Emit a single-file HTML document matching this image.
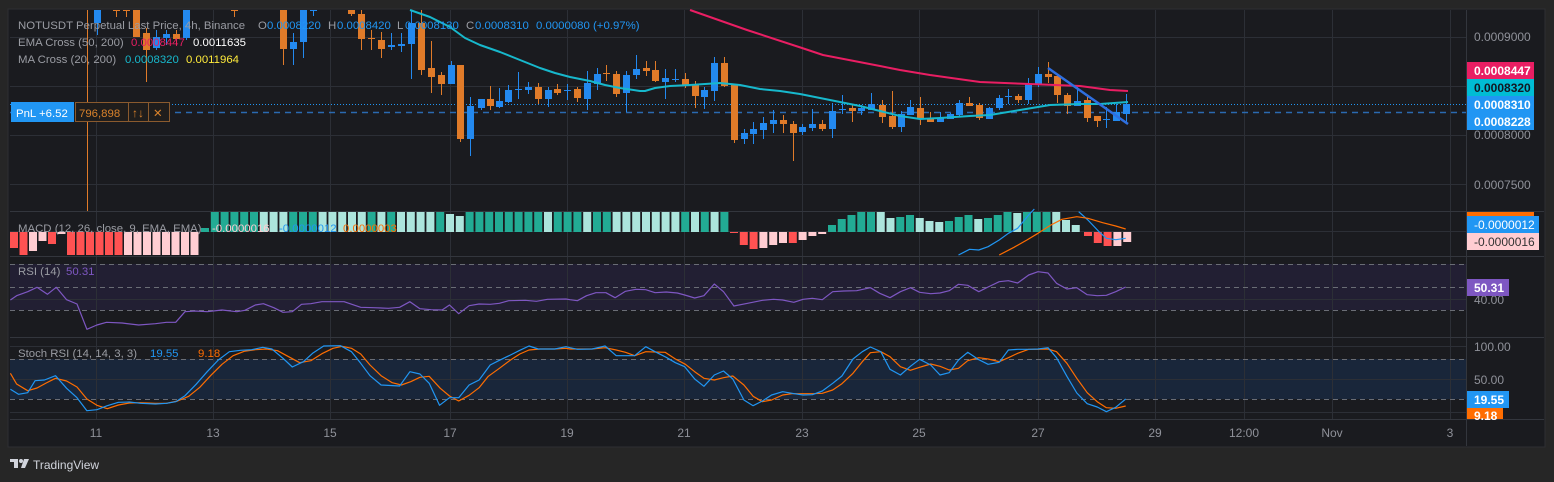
<!DOCTYPE html>
<html><head><meta charset="utf-8"><style>
html,body{margin:0;padding:0;background:#262626;width:1554px;height:482px;overflow:hidden}
svg{display:block}
text{font-family:"Liberation Sans",sans-serif;font-size:12px}
text.lg{font-size:11.4px}
</style></head><body>
<svg id="s" width="1554" height="482" xmlns="http://www.w3.org/2000/svg">
<rect x="8" y="9" width="1537" height="438" fill="#1a1b1f" stroke="#2e2f33"/>
<g id="g"></g>
</svg>
<script>
const NS="http://www.w3.org/2000/svg";const g=document.getElementById('g');
function el(t,a,txt){const e=document.createElementNS(NS,t);for(const k in a)e.setAttribute(k,a[k]);if(txt!==undefined)e.textContent=txt;g.appendChild(e);return e;}
function line(x1,y1,x2,y2,c,w,d){const a={x1,y1,x2,y2,stroke:c,'stroke-width':w||1};if(d)a['stroke-dasharray']=d;el('line',a);}
function rect(x,y,w,h,c){el('rect',{x,y,width:w,height:h,fill:c});}
function poly(pts,c,w){el('polyline',{points:pts.map(p=>p[0].toFixed(1)+','+p[1].toFixed(1)).join(' '),fill:'none',stroke:c,'stroke-width':w||1.2,'stroke-linejoin':'round'});}
function txt(x,y,s,c,extra){const a={x,y,fill:c};Object.assign(a,extra||{});el('text',a,s);}
function lt(x,y,s,c){txt(x,y,s,c,{'class':'lg'});}
const GR='#2c2f36';
rect(10,264,1456,46,'#221f33');
rect(10,359,1456,40,'#19263a');
[96,213,330,450,567,684,802,919,1038,1155,1244,1332,1450].forEach(x=>line(x+.5,10,x+.5,419,GR,1));
[37,86,135,184].forEach(y=>line(10,y+.5,1466,y+.5,GR,1));
[211,256,337,419].forEach(y=>line(10,y+.5,1544,y+.5,'#33363d',1));
line(1466.5,10,1466.5,446,'#33363d',1);
line(10,231.5,1466,231.5,GR,1);
line(10,299.5,1466,299.5,GR,1);
[346,379,412].forEach(y=>line(10,y+.5,1466,y+.5,GR,1));
[264,287,310].forEach(y=>line(10,y+.5,1466,y+.5,'#6a6d75',1,'5,4'));
[359,399].forEach(y=>line(10,y+.5,1466,y+.5,'#6a6d75',1,'5,4'));
line(10,104.5,1466,104.5,'#2196f3',1,'1,2');
line(10,112.5,1466,112.5,'#2a6ab0',1.5,'6,5');
const B='#2389ef',O='#e07b29';
const C=[
[97,'b',10,23,10,35],[116,'o',10,10,10,17],[126,'o',10,10,10,17],[136,'o',10,37,10,37],[146,'o',33,50,28,82],[156,'b',37,48,30,50],[166,'b',34,38,30,45],[176,'o',34,39,30,45],[186,'b',10,38,10,40],[234,'o',10,10,10,17],
[283,'o',10,49,10,65],[293,'b',42,49,33,65],[303,'b',10,42,10,58],[313,'b',10,10,10,16],[351,'o',10,14,10,16],[361,'o',14,39,10,50],[371,'o',38,39,30,50],[381,'o',40,49,32,58],[391,'b',45,47,33,50],[401,'b',44,46,33,52],
[411,'b',23,44,10,79],[421,'o',23,70,10,75],[431,'o',68,77,41,93],[441,'o',75,84,72,95],[451,'b',65,84,61,84],[460,'o',65,139,65,142],[470,'b',106,139,97,156],
[481,'b',99,108,99,110],[490,'o',99,106,86,110],[499,'b',101,107,88,108],[508,'b',90,102,85,103],[518,'b',89,89,72,99],[528,'b',87,90,82,94],[538,'o',87,99,83,104],[548,'b',90,99,87,107],[557,'o',89,93,84,95],[567,'b',90,90,84,100],[577,'o',89,98,87,102],[587,'b',83,99,71,110],[597,'b',74,84,68,90],[606,'o',73,73,65,81],[616,'o',74,94,71,97],[626,'b',75,93,71,112],[636,'b',69,75,55,79],[646,'o',68,71,61,76],[655,'o',70,81,61,82],[665,'b',78,82,69,99],[675,'b',79,79,69,82],[685,'o',79,86,73,88],[695,'o',84,96,81,108],[704,'b',90,97,87,109],[714,'b',63,91,57,101],[724,'o',63,86,57,87],[734,'o',85,140,85,143],[744,'b',133,139,129,144],[753,'b',129,134,122,144],[763,'b',123,130,117,139],[773,'b',120,124,110,133],[783,'o',120,124,115,133],[793,'o',124,133,121,161],[802,'b',127,132,124,135],[812,'b',124,128,109,131],[822,'o',124,129,120,131],[832,'b',111,129,103,138],[842,'b',109,109,95,114],[852,'o',108,111,105,122],[861,'b',108,111,105,115],[871,'b',104,110,93,110],
[882,'o',105,117,100,123],[892,'o',116,127,91,129],[901,'b',114,127,111,132],[910,'b',107,115,100,115],[920,'o',108,119,97,125],[930,'o',118,122,112,122],[940,'b',118,122,112,122],[950,'b',114,119,113,119],[959,'b',103,115,100,117],[969,'o',103,106,97,106],[979,'o',105,118,103,120],[989,'b',108,119,107,119],[999,'b',98,108,95,110],[1008,'b',96,96,89,104],[1018,'o',96,100,94,103],[1028,'b',84,100,78,104],[1038,'b',74,85,67,87],[1048,'o',74,77,62,83],[1057,'o',76,95,74,103],[1067,'o',95,106,93,114],[1077,'b',101,106,87,106],[1087,'o',100,118,95,122],[1097,'o',116,121,116,127],[1106,'b',119,119,107,128],[1116,'b',112,121,104,121],[1126,'b',104,114,94,122]];
line(87.5,10,87.5,211,O,1);
C.forEach(c=>{const col=c[1]=='b'?B:O;line(c[0]+.5,c[4],c[0]+.5,c[5],col,1);rect(c[0]-3,c[2],7,Math.max(1,c[3]-c[2]),col);});
poly([[690,10],[747,30],[802,48],[823,55],[880,66],[900,70],[930,75],[980,82],[1030,84],[1080,86],[1110,90],[1128,91]],'#e91e63',2);
poly([[410,10],[430,17],[450,27],[465,38],[480,45],[500,52],[520,60],[540,68],[555,73],[570,77],[590,81],[605,85],[620,88],[640,91],[645,91],[655,88],[670,86],[690,85],[720,83],[740,85],[760,89],[780,91],[800,94],[820,98],[840,102],[860,106],[880,111],[900,116],[920,119],[940,118],[970,116],[990,115],[1020,110],[1050,105],[1080,104],[1100,104],[1128,102]],'#17b8cc',2);
poly([[1048,68],[1128,124]],'#2f6fe0',2.5);
const DG='#22ab94',LG='#ace5dc',RD='#ff5252',PK='#ffcdd2';
function bar(x,top,bot,c){rect(x,top,8,bot-top,c);}
const z0=232;
const neg1=[[RD,248],[RD,255],[PK,251],[PK,241],[RD,244],[PK,234],[RD,255],[RD,255],[RD,255],[RD,255],[RD,255],[RD,255],[PK,255],[PK,255],[PK,255],[PK,255],[PK,255],[PK,255],[PK,255],[PK,255]];
neg1.forEach((b,i)=>bar(10+i*9.5,z0,b[1],b[0]));
const gseq='DDDDDDLLLDDDLLLLLDLDLLLLDLLDDDDDDDDLDDDLDDLLLLLLLDLDLD';
for(let i=0;i<54;i++){const x=201+i*9.8;let top=212;if(i==0)top=228;if(i==25||i==26)top=i==25?214:216;bar(x,top,z0,gseq[i]=='D'?DG:LG);}
const neg2=[[RD,233],[RD,245],[RD,249],[PK,248],[PK,245],[PK,243],[RD,243],[PK,240],[PK,236],[PK,234]];
neg2.forEach((b,i)=>bar(730+i*9.8,z0,b[1],b[0]));
const gr2=[[DG,225],[DG,219],[DG,215],[DG,212],[DG,212],[LG,212],[LG,218],[DG,217],[DG,215],[LG,218],[LG,221],[LG,222],[DG,221],[DG,217],[DG,215],[LG,219],[DG,218],[DG,215],[DG,212],[LG,213],[DG,212],[DG,212],[DG,212],[LG,212],[LG,220],[LG,225]];
gr2.forEach((b,i)=>bar(828+i*9.75,b[1],z0,b[0]));
const neg3=[[RD,236],[RD,243],[RD,246],[PK,246],[PK,242]];
neg3.forEach((b,i)=>bar(1084+i*9.8,z0,b[1],b[0]));
function tz(arr,ox){return arr.map(p=>[ox+p[0]/2.703,205+p[1]/3]);}
poly(tz([[1050,150],[1080,133],[1105,135],[1130,125],[1160,105],[1185,85],[1210,70],[1240,30],[1255,12]],570),'#2196f3',1.2);
poly(tz([[1375,20],[1400,45],[1430,80],[1450,100],[1475,104],[1502,100]],570),'#2196f3',1.2);
poly(tz([[1160,150],[1200,127],[1235,105],[1265,85],[1300,60],[1330,43],[1370,35],[1400,40],[1440,53],[1475,63],[1502,72]],570),'#ff6d00',1.2);
const rsi1=[[28,285],[45,272],[75,260],[100,247],[128,268],[152,247],[180,284],[208,297],[235,373],[262,360],[288,352],[330,354],[375,360],[420,356],[450,352],[475,352],[500,320],[527,318],[560,320],[600,315],[640,320],[662,316],[690,300],[712,296],[740,308],[765,322],[790,320],[815,298],[840,296],[870,290],[930,290],[975,307],[1010,308],[1050,310],[1080,307],[1108,290],[1135,311],[1165,314],[1195,315],[1215,300],[1240,326],[1268,302],[1295,297],[1325,298],[1350,295],[1375,287],[1420,286],[1450,289],[1480,283],[1530,282]];
const rsi2=[[0,284],[20,287],[45,272],[70,263],[97,263],[122,278],[150,259],[178,253],[205,254],[230,263],[260,261],[290,264],[310,270],[337,279],[362,272],[390,237],[415,260],[443,303],[480,295],[520,286],[550,283],[575,285],[605,292],[630,283],[655,280],[682,284],[710,260],[740,258],[775,257],[812,248],[837,265],[865,278],[893,260],[920,248],[945,262],[975,266],[1000,264],[1025,257],[1050,238],[1075,241],[1105,260],[1130,246],[1160,230],[1185,227],[1210,234],[1240,210],[1265,200],[1292,204],[1315,235],[1343,252],[1370,248],[1398,269],[1425,272],[1450,271],[1475,260],[1502,246]];
poly(tz(rsi1,0).concat(tz(rsi2,570)),'#7e57c2',1.2);
const sb1=[[28,553],[50,568],[75,563],[95,527],[120,525],[150,512],[180,550],[208,578],[235,617],[262,614],[290,602],[320,592],[350,591],[380,595],[420,597],[450,595],[475,590],[500,572],[530,538],[560,500],[590,465],[620,440],[650,436],[680,434],[710,427],[735,432],[765,460],[790,486],[820,470],[845,445],[875,423],[920,422],[950,440],[975,475],[1000,512],[1030,540],[1080,543],[1108,500],[1135,507],[1160,535],[1188,601],[1215,578],[1240,578],[1268,540],[1295,525],[1325,480],[1350,466],[1380,450],[1405,436],[1430,423],[1455,432],[1500,432],[1530,425]];
const sb2=[[0,428],[20,433],[60,432],[95,423],[125,452],[175,452],[205,425],[230,440],[260,457],[285,473],[310,485],[337,522],[362,544],[390,510],[415,498],[440,522],[470,585],[495,602],[520,588],[545,570],[575,560],[600,565],[630,570],[655,569],[682,558],[710,535],[735,513],[765,462],[790,440],[812,426],[840,440],[865,493],[893,510],[920,484],[945,463],[975,480],[1000,510],[1025,503],[1050,465],[1075,442],[1105,464],[1130,478],[1160,472],[1185,435],[1210,433],[1240,433],[1265,432],[1292,428],[1315,458],[1343,514],[1370,564],[1398,596],[1425,606],[1450,620],[1475,607],[1502,582]];
const so1=[[28,505],[45,537],[75,557],[100,549],[125,534],[150,520],[180,528],[208,546],[235,582],[262,601],[290,611],[320,600],[350,594],[380,593],[420,595],[450,595],[480,588],[510,574],[540,547],[570,511],[600,478],[630,452],[660,439],[690,434],[720,432],[750,437],[780,455],[810,473],[840,467],[870,446],[900,430],[925,424],[950,430],[975,447],[1000,480],[1030,512],[1060,533],[1085,540],[1110,530],[1135,517],[1160,514],[1190,550],[1215,573],[1240,588],[1268,571],[1295,548],[1320,514],[1350,490],[1380,465],[1405,447],[1430,435],[1460,432],[1500,432],[1530,430]];
const so2=[[0,432],[60,432],[95,428],[125,435],[150,442],[175,452],[205,440],[230,441],[257,442],[285,462],[312,478],[337,500],[362,520],[390,525],[415,518],[440,513],[470,540],[495,574],[520,590],[545,585],[575,570],[600,566],[655,566],[682,565],[710,555],[735,536],[765,505],[790,470],[812,443],[840,440],[865,455],[893,485],[920,496],[945,487],[975,477],[1000,484],[1025,495],[1050,490],[1075,467],[1105,458],[1130,462],[1160,470],[1185,458],[1210,445],[1240,433],[1265,433],[1292,432],[1315,440],[1343,475],[1370,520],[1398,563],[1425,590],[1450,608],[1475,610],[1502,603]];
poly(tz(so1,0).concat(tz(so2,570)),'#ff6d00',1.2);
poly(tz(sb1,0).concat(tz(sb2,570)),'#2196f3',1.2);
const GY='#9a9ca3';
lt(18,29,'NOTUSDT Perpetual Last Price, 4h, Binance',GY);
lt(258,29,'O',GY);lt(267,29,'0.0008220','#2196f3');
lt(328,29,'H',GY);lt(337,29,'0.0008420','#2196f3');
lt(397,29,'L',GY);lt(405,29,'0.0008130','#2196f3');
lt(466,29,'C',GY);lt(475,29,'0.0008310','#2196f3');
lt(536,29,'0.0000080 (+0.97%)','#2196f3');
lt(18,46,'EMA Cross (50, 200)',GY);lt(131,46,'0.0008447','#e91e63');lt(193,46,'0.0011635','#ffffff');
lt(18,63,'MA Cross (20, 200)',GY);lt(125,63,'0.0008320','#17b8cc');lt(186,63,'0.0011964','#ffeb3b');
rect(11,102,63,20,'#2196f3');lt(16,117,'PnL +6.52','#ffffff');
el('rect',{x:75.5,y:102.5,width:53,height:19,fill:'#1f1d1c',stroke:'#8a5a2e'});lt(79,117,'796,898','#d9822b');
el('rect',{x:128.5,y:102.5,width:20,height:19,fill:'#1f1d1c',stroke:'#8a5a2e'});txt(132,117,'↑↓','#d9822b',{'font-size':'11px'});
el('rect',{x:148.5,y:102.5,width:21,height:19,fill:'#1f1d1c',stroke:'#8a5a2e'});lt(153,117,'✕','#d9822b');
lt(18,232,'MACD (12, 26, close, 9, EMA, EMA)',GY);lt(212,232,'-0.0000016','#ffcdd2');lt(279,232,'-0.0000012','#2196f3');lt(343,232,'0.0000003','#ff6d00');
lt(18,275,'RSI (14)',GY);lt(66,275,'50.31','#7e57c2');
lt(18,357,'Stoch RSI (14, 14, 3, 3)',GY);lt(150,357,'19.55','#2196f3');lt(198,357,'9.18','#ff6d00');
const AX='#8f9199';
txt(1474,41,'0.0009000',AX);txt(1474,139,'0.0008000',AX);txt(1474,189,'0.0007500',AX);
[[62,'#e91e63','#fff','0.0008447'],[79,'#00bcd4','#131722','0.0008320'],[96,'#2196f3','#fff','0.0008310'],[113,'#2196f3','#fff','0.0008228']].forEach(b=>{rect(1467,b[0],67,17,b[1]);txt(1474,b[0]+13,b[3],b[2],{'font-weight':'bold'});});
rect(1467,212,67,4,'#ff6d00');
rect(1467,216,72,17,'#2196f3');txt(1474,229,'-0.0000012','#fff');
rect(1467,233,72,17,'#ffcdd2');txt(1474,246,'-0.0000016','#333');
txt(1474,304,'40.00',AX);
rect(1467,279,42,17,'#7e57c2');txt(1474,292,'50.31','#fff',{'font-weight':'bold'});
txt(1474,351,'100.00',AX);txt(1474,384,'50.00',AX);
rect(1467,391,42,17,'#2196f3');txt(1474,404,'19.55','#fff',{'font-weight':'bold'});
rect(1467,408,36,11,'#ff6d00');txt(1474,420,'9.18','#fff',{'font-weight':'bold'});
[[96,'11'],[213,'13'],[330,'15'],[450,'17'],[567,'19'],[684,'21'],[802,'23'],[919,'25'],[1038,'27'],[1155,'29'],[1244,'12:00'],[1332,'Nov'],[1450,'3']].forEach(t=>txt(t[0],437,t[1],AX,{'text-anchor':'middle'}));
rect(10,459,8,3,'#d1d4dc');rect(14,459,4,9,'#d1d4dc');el('circle',{cx:21,cy:461,r:2,fill:'#d1d4dc'});el('polygon',{points:'24,459 29,459 25,468 21,468',fill:'#d1d4dc'});
txt(33,469,'TradingView','#d1d4dc',{'font-size':'13px'});
</script>
</body></html>
